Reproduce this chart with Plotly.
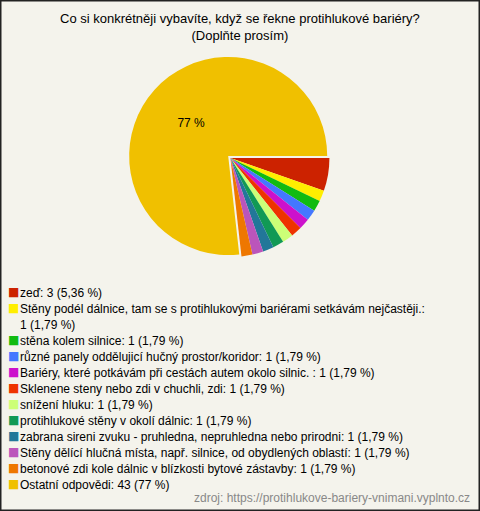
import plotly.graph_objects as go

# ---- data ----
categories = [
    "zeď",
    "Stěny podél dálnice, tam se s protihlukovými bariérami setkávám nejčastěji.",
    "stěna kolem silnice",
    "různé panely oddělujicí hučný prostor/koridor",
    "Bariéry, které potkávám při cestách autem okolo silnic. ",
    "Sklenene steny nebo zdi v chuchli, zdi",
    "snížení hluku",
    "protihlukové stěny v okolí dálnic",
    "zabrana sireni zvuku - pruhledna, nepruhledna nebo prirodni",
    "Stěny dělící hlučná místa, např. silnice, od obydlených oblastí",
    "betonové zdi kole dálnic v blízkosti bytové zástavby",
    "Ostatní odpovědi",
]
counts = [3, 1, 1, 1, 1, 1, 1, 1, 1, 1, 1, 43]
pct_labels = ["5,36 %", "1,79 %", "1,79 %", "1,79 %", "1,79 %", "1,79 %",
              "1,79 %", "1,79 %", "1,79 %", "1,79 %", "1,79 %", "77 %"]
colors = ["#cc2200", "#ffee00", "#11bb11", "#4477ff", "#cc11cc", "#ee3300",
          "#ccff77", "#119955", "#227799", "#bb55bb", "#ee7700", "#f0c000"]

title_text = "Co si konkrétněji vybavíte, když se řekne protihlukové bariéry?<br>(Doplňte prosím)"
source_text = "zdroj: https://protihlukove-bariery-vnimani.vyplnto.cz"

FONT = "Liberation Sans, Arial, sans-serif"
W, H = 480, 511
BG = "#f4f3ec"

# slice text: only the large slice shows its percentage
max_i = counts.index(max(counts))
slice_text = [pct_labels[i] if i == max_i else "" for i in range(len(counts))]
pulls = [0.03 if i == max_i else 0 for i in range(len(counts))]

fig = go.Figure()
fig.add_trace(go.Pie(
    labels=categories,
    values=counts,
    sort=False,
    direction="clockwise",
    rotation=90,
    marker=dict(colors=colors, line=dict(width=0)),
    text=slice_text,
    textinfo="text",
    textposition="inside",
    insidetextorientation="horizontal",
    textfont=dict(family=FONT, size=12, color="#000000"),
    pull=pulls,
    showlegend=False,
    hoverinfo="label+value+percent",
    domain=dict(x=[0.2, 0.76], y=[1 - 260 / H, 1 - 56 / H]),
))

annotations = []
# title
annotations.append(dict(
    text=title_text, x=0.5, y=1 - 27 / H, xref="paper", yref="paper",
    xanchor="center", yanchor="middle", showarrow=False, align="center",
    font=dict(family=FONT, size=13, color="#000000"),
))

# legend built as text rows
line = 0
for i, (name, c, p) in enumerate(zip(categories, counts, pct_labels)):
    label = f"{name}: {c} ({p})"
    if len(label) > 80:
        label = f"{name}.:<br>{c} ({p})".replace("..:", ".:")
        nlines = 2
    else:
        nlines = 1
    y_top = 284 + 16 * line
    annotations.append(dict(
        text="■", x=6 / W, y=1 - (y_top - 1) / H, xref="paper", yref="paper",
        xanchor="left", yanchor="top", showarrow=False,
        font=dict(family="DejaVu Sans", size=12, color=colors[i]),
    ))
    annotations.append(dict(
        text=label, x=18 / W, y=1 - y_top / H, xref="paper", yref="paper",
        xanchor="left", yanchor="top", showarrow=False, align="left",
        font=dict(family=FONT, size=12, color="#000000"),
    ))
    line += nlines

annotations.append(dict(
    text=source_text, x=472 / W, y=1 - 498 / H, xref="paper", yref="paper",
    xanchor="right", yanchor="middle", showarrow=False,
    font=dict(family=FONT, size=12, color="#888888"),
))

fig.update_layout(
    width=W, height=H,
    margin=dict(l=0, r=0, t=0, b=0),
    paper_bgcolor=BG, plot_bgcolor=BG,
    annotations=annotations,
    shapes=[dict(type="rect", xref="paper", yref="paper", x0=0, x1=1, y0=0, y1=1,
                 line=dict(color="#222222", width=3), fillcolor="rgba(0,0,0,0)")],
)

fig.write_html(
    "out.html",
    config={"displayModeBar": False},
    post_script="document.body.style.margin='0';document.body.style.overflow='hidden';",
)
